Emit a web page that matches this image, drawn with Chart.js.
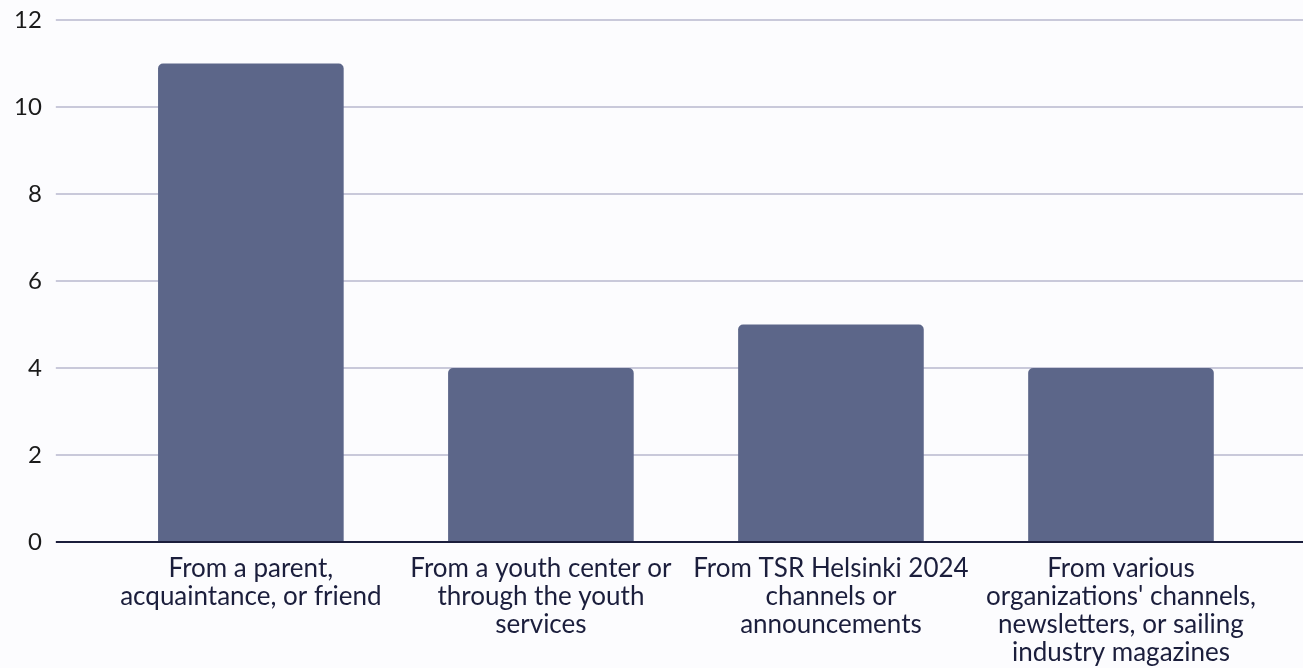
<!DOCTYPE html>
<html>
<head>
<meta charset="utf-8">
<script src="https://cdn.jsdelivr.net/npm/chart.js@4.4.1/dist/chart.umd.min.js"></script>
<style>
  html, body { margin: 0; padding: 0; background: #fcfcfe; }
  #wrap { width: 1303px; height: 668px; position: relative; }
</style>
</head>
<body>
<div id="wrap"><canvas id="sources"></canvas></div>
<script>
var categories = [
    ["From a parent,", "acquaintance, or friend"],
    ["From a youth center or", "through the youth", "services"],
    ["From TSR Helsinki 2024", "channels or", "announcements"],
    ["From various", "organizations' channels,", "newsletters, or sailing", "industry magazines"]
];
var counts = [11, 4, 5, 4];
var yTicks = [0, 2, 4, 6, 8, 10, 12];

var gridColor = "#c9c9da";
var axisColor = "#1b1e3c";
function lineColor(c) {
    return c.tick && c.tick.value === 0 ? axisColor : gridColor;
}
function fixedTicks(s) {
    s.ticks = yTicks.map(function (v) { return { value: v }; });
}
// let layout.padding.top decide where the 12 line sits
function noTopPad(s) { s.paddingTop = 0; }

var ctx = document.getElementById('sources');
new Chart(ctx, {
    type: 'bar',
    data: {
        labels: categories,
        datasets: [{
            data: counts,
            backgroundColor: "#5c6689",
            borderRadius: { topLeft: 5, topRight: 5 },
            borderSkipped: 'start',
            categoryPercentage: 1,
            barPercentage: 0.64
        }]
    },
    options: {
        responsive: true,
        maintainAspectRatio: false,
        animation: false,
        layout: { padding: { left: 0, right: 0, top: 20, bottom: -12 } },
        plugins: {
            legend: { display: false },
            tooltip: { enabled: false }
        },
        scales: {
            x: {
                grid: { display: false, drawTicks: false },
                border: { display: false },
                ticks: {
                    color: "#1b1e3c",
                    padding: 13,
                    maxRotation: 0,
                    autoSkip: false,
                    font: { family: "Lato", size: 26, lineHeight: "28px" }
                }
            },
            y: {
                min: yTicks[0],
                max: yTicks[yTicks.length - 1],
                afterBuildTicks: fixedTicks,
                afterFit: noTopPad,
                grid: { color: lineColor, lineWidth: 2, tickLength: 50, tickColor: lineColor },
                border: { display: false },
                ticks: {
                    color: "#1a1a1a",
                    padding: 14,
                    font: { family: "Lato", size: 24 }
                }
            },
            y2: {
                position: 'right',
                min: yTicks[0],
                max: yTicks[yTicks.length - 1],
                afterBuildTicks: fixedTicks,
                afterFit: noTopPad,
                grid: { color: lineColor, lineWidth: 2, tickLength: 37, tickColor: lineColor, drawOnChartArea: false },
                border: { display: false },
                ticks: { display: false }
            }
        }
    }
});
</script>
</body>
</html>
